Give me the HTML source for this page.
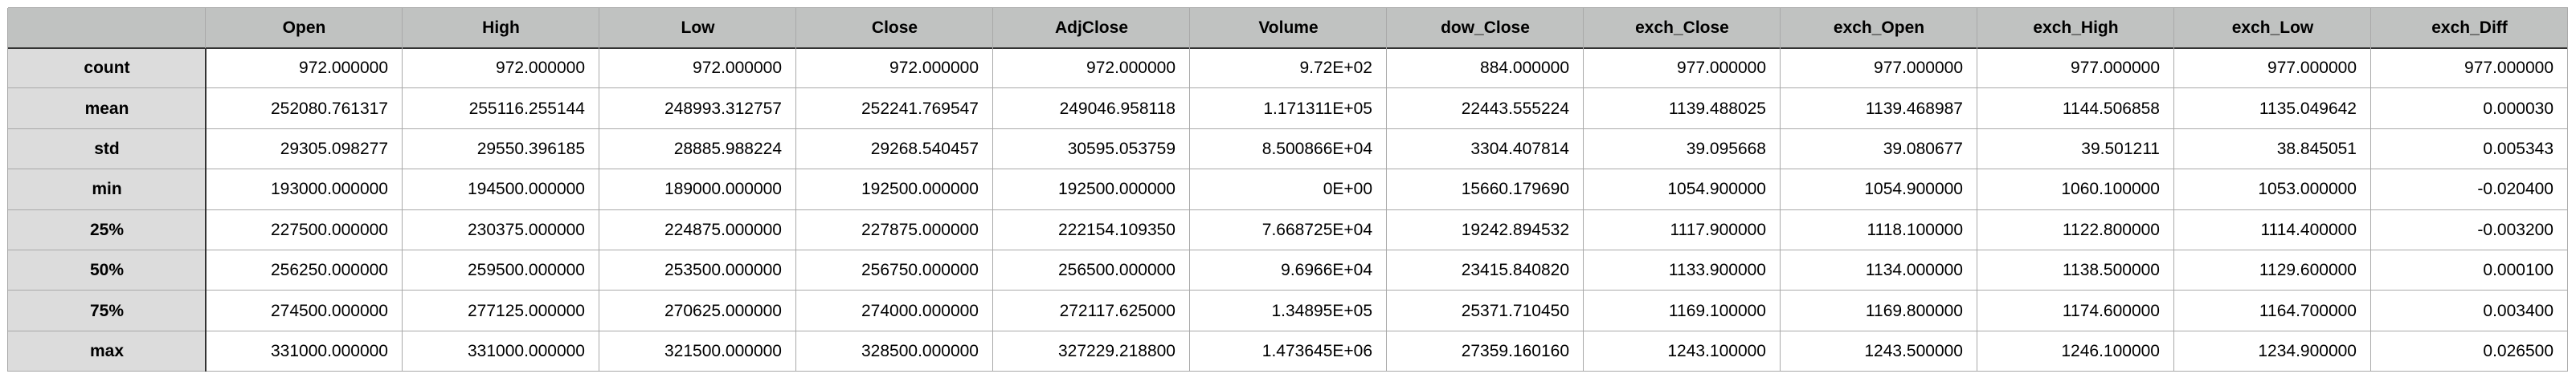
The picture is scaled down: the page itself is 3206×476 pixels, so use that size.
<!DOCTYPE html>
<html><head><meta charset="utf-8">
<style>
html,body{margin:0;padding:0;background:#fff;width:3206px;height:476px;overflow:hidden}
.c{position:absolute;box-sizing:border-box;font-family:"Liberation Sans",Arial,sans-serif;font-size:21px;color:#000;display:flex;align-items:center;white-space:nowrap}
.h{background:#c0c2c1;font-weight:bold;justify-content:center}
.r{background:#dcdcdc;font-weight:bold;justify-content:center}
.d{background:#fff;justify-content:flex-end;padding-right:18px}
.vl,.hl{position:absolute;background:#a9a9a9}
</style></head><body>
<div id="t"></div>
<script>
const columns=["Open","High","Low","Close","AdjClose","Volume","dow_Close","exch_Close","exch_Open","exch_High","exch_Low","exch_Diff"];
const rowLabels=["count","mean","std","min","25%","50%","75%","max"];
const rowCount=["972.000000","972.000000","972.000000","972.000000","972.000000","9.72E+02","884.000000","977.000000","977.000000","977.000000","977.000000","977.000000"];
const rowMean=["252080.761317","255116.255144","248993.312757","252241.769547","249046.958118","1.171311E+05","22443.555224","1139.488025","1139.468987","1144.506858","1135.049642","0.000030"];
const rowStd=["29305.098277","29550.396185","28885.988224","29268.540457","30595.053759","8.500866E+04","3304.407814","39.095668","39.080677","39.501211","38.845051","0.005343"];
const rowMin=["193000.000000","194500.000000","189000.000000","192500.000000","192500.000000","0E+00","15660.179690","1054.900000","1054.900000","1060.100000","1053.000000","-0.020400"];
const row25=["227500.000000","230375.000000","224875.000000","227875.000000","222154.109350","7.668725E+04","19242.894532","1117.900000","1118.100000","1122.800000","1114.400000","-0.003200"];
const row50=["256250.000000","259500.000000","253500.000000","256750.000000","256500.000000","9.6966E+04","23415.840820","1133.900000","1134.000000","1138.500000","1129.600000","0.000100"];
const row75=["274500.000000","277125.000000","270625.000000","274000.000000","272117.625000","1.34895E+05","25371.710450","1169.100000","1169.800000","1174.600000","1164.700000","0.003400"];
const rowMax=["331000.000000","331000.000000","321500.000000","328500.000000","327229.218800","1.473645E+06","27359.160160","1243.100000","1243.500000","1246.100000","1234.900000","0.026500"];
const rows=[rowCount,rowMean,rowStd,rowMin,row25,row50,row75,rowMax];
const t=document.getElementById('t');
const L=10,T=10,W0=246,CW=245,HH=50,RH=50.4;
function cell(cls,x,y,w,h,txt,name){
  const d=document.createElement('div');
  d.className='c '+cls;
  d.style.cssText=`left:${x}px;top:${y}px;width:${w}px;height:${h}px`;
  d.textContent=txt;
  
  
  t.appendChild(d);
}
cell('h',L,T,W0,HH,'','header-corner');
columns.forEach((c,i)=>cell('h',L+W0+i*CW,T,CW,HH,c,'header-'+c.toLowerCase()));
rowLabels.forEach((r,j)=>{
  const y=T+HH+j*RH;
  cell('r',L,y,W0,RH,r,'row-label-'+r.replace('%','pct'));
  rows[j].forEach((v,i)=>cell('d',L+W0+i*CW,y,CW,RH,v,'cell-'+r.replace('%','pct')+'-'+columns[i].toLowerCase()));
});
const totW=W0+CW*columns.length, totH=HH+RH*rowLabels.length;
function line(cls,x,y,w,h,col){const d=document.createElement('div');d.className=cls;d.style.cssText=`left:${x}px;top:${y}px;width:${w}px;height:${h}px`+(col?`;background:${col}`:'');t.appendChild(d);}
for(let j=0;j<=rowLabels.length+1;j++){
  const y=j==0?T:T+HH+(j-1)*RH;
  line('hl',L,Math.round(y)-1,totW,j==1?2:1,j==1?'#333':null);
}
for(let i=0;i<=columns.length+1;i++){
  const x=i==0?L:L+W0+(i-1)*CW;
  if(i==1){line('vl',x-1,T,1,HH);line('vl',x-1,T+HH,2,totH-HH,'#333');}
  else line('vl',x-1,T,1,totH);
}
</script>
</body></html>
